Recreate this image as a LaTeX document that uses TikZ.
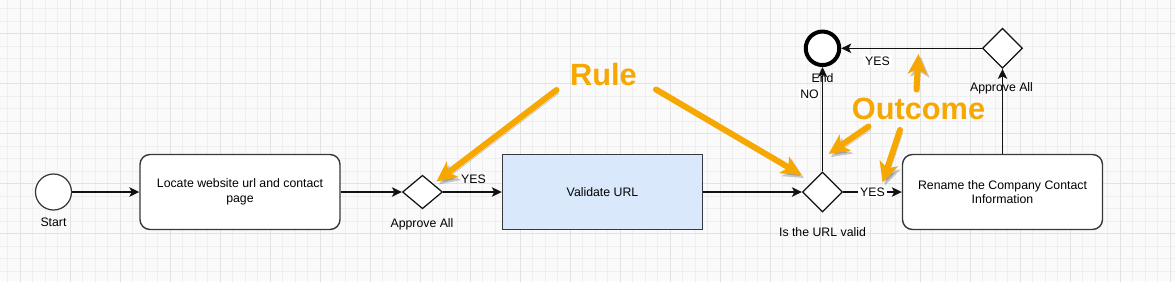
\documentclass[tikz,border=0pt]{standalone}
\usepackage{fontspec}
\setmainfont{Liberation Sans}
\usetikzlibrary{positioning, shapes.geometric, arrows.meta, backgrounds}
\definecolor{ink}{HTML}{111111}
\definecolor{edge}{HTML}{36393D}
\definecolor{callout}{HTML}{F7A800}
\definecolor{task}{HTML}{DAE8FC}
\definecolor{sheet}{HTML}{FAFAFA}
\definecolor{gridlo}{HTML}{EFEFEF}
\definecolor{gridhi}{HTML}{E2E2E2}

\tikzset{
  flow/.style={draw=ink, line width=0.7pt, -{Stealth[length=2mm,width=1.9mm,inset=0.5mm]}},
  taskbox/.style={draw=edge, line width=0.8pt, minimum width=4cm, minimum height=1.5cm, align=center},
  gate/.style={diamond, draw=ink, fill=white, line width=0.7pt, inner sep=0pt, minimum width=0.8cm, minimum height=0.8cm},
  event/.style={circle, draw=edge, fill=white, line width=0.7pt, minimum size=0.72cm, inner sep=0pt},
  tag/.style={fill=white, inner sep=1pt},
  bigword/.style={text=callout, font=\bfseries\fontsize{17.5}{20}\selectfont},
  callarrow/.style={draw=callout, line width=0.12cm, line cap=round,
    -{Stealth[length=0.4cm,width=0.38cm,inset=0.1cm]},
    preaction={draw=black, opacity=0.2, transform canvas={shift={(0.05,-0.06)}}}},
}

\begin{document}
\begin{tikzpicture}[font=\fontsize{7}{8.4}\selectfont]
  % Canvas with draw.io style grid
  \useasboundingbox (0,0) rectangle (23.5,-5.62);
  \fill[sheet] (0,0) rectangle (23.5,-5.62);
  \begin{scope}
    \clip (0,0) rectangle (23.5,-5.62);
    \begin{scope}[shift={(0.4,-0.667)}]
      \draw[gridlo, line width=0.4pt, step=0.25] (-1,1) grid (24,-6);
      \draw[gridhi, line width=0.5pt, step=1] (-1,1) grid (24,-6);
    \end{scope}
  \end{scope}

  % Main flow
  \node[event] (start) at (1.07,-3.84) {};
  \node at (1.07,-4.45) {Start};
  \node[taskbox, rounded corners=0.2cm, fill=white] (locate) at (4.8,-3.84) {Locate website url and contact\\page};
  \node[gate, minimum height=0.67cm] (approve) at (8.45,-3.84) {};
  \node at (8.44,-4.49) {Approve All};
  \node[taskbox, fill=task] (validate) at (12.05,-3.84) {Validate URL};
  \node[gate] (urlcheck) at (16.45,-3.84) {};
  \node at (16.45,-4.65) {Is the URL valid};
  \node[taskbox, rounded corners=0.2cm, fill=white] (rename) at (20.05,-3.84) {Rename the Company Contact\\Information};

  % Top row
  \node[event, draw=black, line width=0.08cm, minimum size=0.67cm] (finish) at (16.45,-0.966) {};
  \node[gate] (approvetop) at (20.05,-0.966) {};
  \node at (20.03,-1.766) {Approve All};

  % Connectors
  \draw[flow] (start) -- (locate);
  \draw[flow] (locate) -- (approve);
  \draw[flow] (approve) -- (validate);
  \node at (9.47,-3.59) {YES};
  \draw[flow] (validate) -- (urlcheck);
  \draw[flow] (urlcheck) -- node[tag] {YES} (rename);
  \draw[flow] (urlcheck) -- (finish);
  \node[tag] at (16.19,-1.886) {NO};
  \node at (16.45,-1.566) {End};
  \draw[flow] (rename) -- (approvetop);
  \draw[flow] (approvetop) -- (finish);
  \node[tag] at (17.55,-1.22) {YES};

  % Annotations
  \node[bigword] (rule) at (12.07,-1.5) {Rule};
  \node[bigword] (outcome) at (18.37,-2.17) {Outcome};
  \coordinate (ruleA) at (11.13,-1.8);
  \coordinate (ruleB) at (13.12,-1.79);
  \coordinate (ruleAtip) at (8.73,-3.63);
  \coordinate (ruleBtip) at (16.03,-3.5);
  \coordinate (outA) at (17.37,-2.53);
  \coordinate (outB) at (18.0,-2.6);
  \coordinate (outC) at (18.33,-1.79);
  \coordinate (outAtip) at (16.57,-3.08);
  \coordinate (outBtip) at (17.65,-3.65);
  \coordinate (outCtip) at (18.37,-1.08);
  \draw[callarrow] (ruleA) -- (ruleAtip);
  \draw[callarrow] (ruleB) -- (ruleBtip);
  \draw[callarrow] (outA) -- (outAtip);
  \draw[callarrow] (outB) -- (outBtip);
  \draw[callarrow] (outC) -- (outCtip);
\end{tikzpicture}
\end{document}
